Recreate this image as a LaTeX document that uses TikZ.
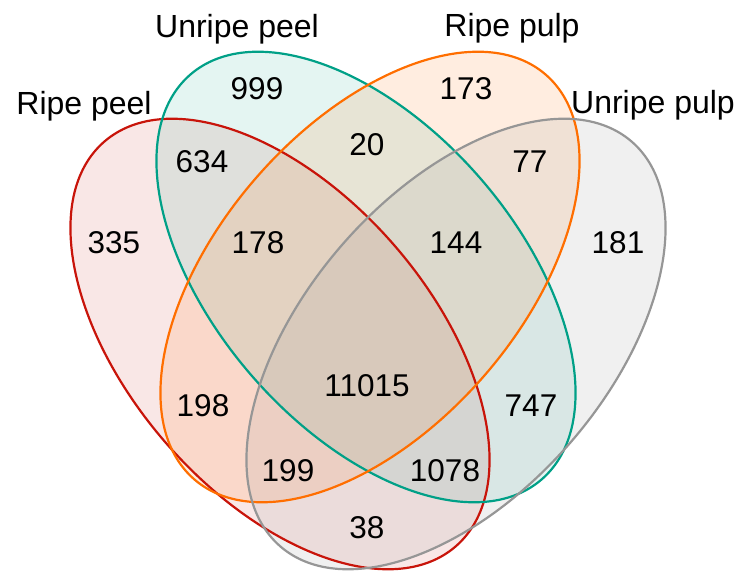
\documentclass[tikz,border=0pt]{standalone}
\usepackage{fontspec}
\setmainfont{Liberation Sans}
\definecolor{cred}{RGB}{200,20,10}
\definecolor{cgreen}{RGB}{0,160,135}
\definecolor{corange}{RGB}{255,110,0}
\definecolor{cgray}{RGB}{150,150,150}
\tikzset{
  setfill/.style 2 args={fill=#1, fill opacity=#2},
  setline/.style={draw=#1, line width=2.2pt},
  num/.style={font=\fontsize{31.5}{36}\selectfont, inner sep=0pt},
  lab/.style={font=\fontsize{32}{38}\selectfont, inner sep=0pt, anchor=base},
}
\begin{document}
\begin{tikzpicture}[x=1pt, y=-1pt]
\useasboundingbox (0,0) rectangle (740,572);
% fills
\path[setfill={cred}{0.10}]    (280,344) ellipse [x radius=268, y radius=151, rotate=-49];
\path[setfill={cgreen}{0.105}]  (366,277) ellipse [x radius=268, y radius=151, rotate=-49];
\path[setfill={corange}{0.12}] (370,277) ellipse [x radius=268, y radius=151, rotate=49];
\path[setfill={cgray}{0.14}]   (456,344) ellipse [x radius=268, y radius=151, rotate=49];
% outlines
\path[setline=cred]    (280,344) ellipse [x radius=268, y radius=151, rotate=-49];
\path[setline=cgreen]  (366,277) ellipse [x radius=268, y radius=151, rotate=-49];
\path[setline=corange] (370,277) ellipse [x radius=268, y radius=151, rotate=49];
\path[setline=cgray]   (456,344) ellipse [x radius=268, y radius=151, rotate=49];
% labels
\node[lab] (lrp) at (84,115) {Ripe peel};
\node[lab] (lup) at (237,38) {Unripe peel};
\node[lab] (lrpu) at (512,37) {Ripe pulp};
\node[lab] (lupu) at (653,114) {Unripe pulp};
% numbers
\node[num] (n999) at (257,89) {999};
\node[num] (n634) at (202,162) {634};
\node[num] (n335) at (114,243) {335};
\node[num] (n178) at (258,243) {178};
\node[num] (n20) at (367,145) {20};
\node[num] (n173) at (466,89) {173};
\node[num] (n77) at (530,162) {77};
\node[num] (n144) at (456,243) {144};
\node[num] (n181) at (618,243) {181};
\node[num] (n198) at (203,406) {198};
\node[num] (n199) at (288,471) {199};
\node[num] (n11015) at (367,386) {11015};
\node[num] (n747) at (531,406) {747};
\node[num] (n1078) at (445,471) {1078};
\node[num] (n38) at (367,528) {38};
\end{tikzpicture}
\end{document}
